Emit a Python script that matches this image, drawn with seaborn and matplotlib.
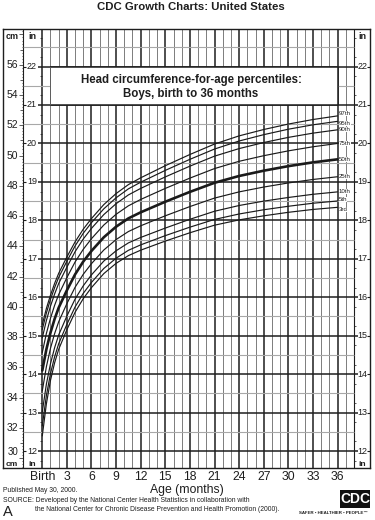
import matplotlib
matplotlib.use("Agg")
import matplotlib.pyplot as plt
from matplotlib.patches import Rectangle
import pandas as pd
import seaborn as sns

# ---------------- data ----------------
ages = [0, 0.5, 1, 1.5, 2, 3, 4, 5, 6, 7.5, 9, 10.5, 12, 15, 18, 21, 24, 27, 30, 33, 36]
p3 = [31.48, 33.6, 35.15, 36.3, 37.2, 38.5, 39.65, 40.55, 41.28, 42.2, 42.88, 43.39, 43.75,
      44.35, 44.9, 45.4, 45.75, 46.02, 46.25, 46.44, 46.58]
p5 = [32.14, 34.15, 35.6, 36.7, 37.57, 38.85, 40.0, 40.9, 41.62, 42.54, 43.22, 43.74, 44.1,
      44.71, 45.27, 45.78, 46.14, 46.42, 46.65, 46.85, 47.0]
p10 = [33.07, 34.9, 36.25, 37.3, 38.15, 39.4, 40.52, 41.4, 42.12, 43.03, 43.71, 44.23, 44.59,
       45.21, 45.79, 46.32, 46.7, 46.99, 47.23, 47.44, 47.6]
p25 = [34.46, 36.05, 37.27, 38.23, 39.02, 40.22, 41.3, 42.16, 42.86, 43.76, 44.45, 44.98, 45.36,
       46.02, 46.63, 47.19, 47.6, 47.92, 48.19, 48.42, 48.6]
p50 = [35.8, 37.2, 38.3, 39.2, 39.95, 41.1, 42.15, 43.0, 43.7, 44.6, 45.3, 45.85, 46.25,
       46.95, 47.6, 48.2, 48.65, 49.0, 49.3, 49.55, 49.75]
p75 = [36.99, 38.25, 39.25, 40.1, 40.82, 41.94, 42.97, 43.81, 44.51, 45.41, 46.12, 46.68, 47.1,
       47.83, 48.51, 49.14, 49.62, 49.99, 50.31, 50.58, 50.8]
p90 = [37.96, 39.1, 40.05, 40.85, 41.55, 42.63, 43.65, 44.49, 45.19, 46.1, 46.82, 47.4, 47.83,
       48.59, 49.3, 49.96, 50.46, 50.86, 51.2, 51.48, 51.7]
p95 = [38.51, 39.6, 40.5, 41.27, 41.95, 43.02, 44.03, 44.87, 45.57, 46.48, 47.21, 47.8, 48.24,
       49.02, 49.75, 50.43, 50.96, 51.38, 51.74, 52.03, 52.26]
p97 = [38.84, 39.9, 40.78, 41.55, 42.22, 43.3, 44.3, 45.14, 45.84, 46.76, 47.49, 48.08, 48.53,
       49.33, 50.07, 50.76, 51.3, 51.72, 52.08, 52.38, 52.62]
pct_names = ["3rd", "5th", "10th", "25th", "50th", "75th", "90th", "95th", "97th"]

month_ticks = [0, 3, 6, 9, 12, 15, 18, 21, 24, 27, 30, 33, 36]
month_labels = ["Birth", "3", "6", "9", "12", "15", "18", "21", "24", "27", "30", "33", "36"]
cm_labels = [30, 32, 34, 36, 38, 40, 42, 44, 46, 48, 50, 52, 54, 56]
in_labels = [12, 13, 14, 15, 16, 17, 18, 19, 20, 21, 22]

title = "CDC Growth Charts: United States"
subtitle1 = "Head circumference-for-age percentiles:"
subtitle2 = "Boys, birth to 36 months"

# ---------------- style ----------------
sns.set_style("white")
plt.rcParams["font.family"] = ["Liberation Sans", "DejaVu Sans"]

W, H = 375, 520
fig = plt.figure(figsize=(W / 100, H / 100), dpi=100)
fig.patch.set_facecolor("white")


def fx(px):
    return px / W


def fy(py):
    return 1 - py / H


ax = fig.add_axes([fx(3), fy(468), fx(370) - fx(3), fy(29) - fy(468)])
XMIN, XMAX = -4.79, 39.96
YMIN, YMAX = 29.36, 58.36
IN = 2.54
CMAX_X = -2.35      # cm axis line position (months units)
GRID_END = 38

DARK = "#1e1e1e"
MID = "#5a5a5a"
LIGHT = "#a8a8a8"

# vertical grid
for m in range(0, GRID_END + 1):
    if m % 3 == 0 and m <= 36:
        ax.vlines(m, YMIN, YMAX, color=DARK, lw=1.1, zorder=1)
    elif m == GRID_END:
        ax.vlines(m, YMIN, YMAX, color=DARK, lw=0.8, zorder=1)
    else:
        ax.vlines(m, YMIN, YMAX, color=MID, lw=0.55, zorder=1)

# cm axis line
ax.vlines(CMAX_X, YMIN, YMAX, color=DARK, lw=0.8, zorder=1)

# half-inch light lines
half = 12.5
while half <= 22.5:
    ax.hlines(half * IN, CMAX_X, GRID_END, color=LIGHT, lw=0.8, zorder=1)
    half += 1

# inch bold lines + labels
for i in in_labels:
    y = i * IN
    ax.hlines(y, -0.55, GRID_END + 0.45, color=DARK, lw=1.1, zorder=1)
    ax.hlines(y, CMAX_X, CMAX_X + 0.35, color=DARK, lw=0.8, zorder=1)
    ax.hlines(y, XMAX - 0.35, XMAX, color=DARK, lw=0.8, zorder=1)
    ax.text(-1.25, y, str(i), ha="center", va="center", fontsize=6.5, color=DARK, zorder=3)
    ax.text(39.05, y, str(i), ha="center", va="center", fontsize=6.5, color=DARK, zorder=3)

# quarter-inch minor ticks
q = 11.75
while q <= 22.9:
    if abs(q * 2 - round(q * 2)) > 1e-6:
        ax.hlines(q * IN, -0.3, 0, color=DARK, lw=0.5, zorder=1)
        ax.hlines(q * IN, GRID_END, GRID_END + 0.3, color=DARK, lw=0.5, zorder=1)
    q += 0.5

# cm ticks
t = 29.4
while t <= 58.3:
    r = round(t, 1)
    if abs(r - round(r)) < 1e-6:
        ln = 0.45 if int(round(r)) % 2 == 0 else 0.32
    elif abs(r * 2 - round(r * 2)) < 1e-6:
        ln = 0.25
    else:
        ln = 0.17
    ax.hlines(r, CMAX_X - ln, CMAX_X, color=DARK, lw=0.5, zorder=1)
    t += 0.2
for c in cm_labels:
    yy = c + 0.4 if c == 30 else c
    ax.text(CMAX_X - 0.55, yy, str(c), ha="right", va="center",
            fontsize=7.0 if c == 30 else 7.5, color=DARK)

# corner unit labels
ax.text(-3.7, 57.85, "cm", ha="center", va="center", fontsize=6.5, fontweight="bold", color=DARK)
ax.text(-1.25, 57.85, "in", ha="center", va="center", fontsize=6.5, fontweight="bold", color=DARK)
ax.text(39.05, 57.85, "in", ha="center", va="center", fontsize=6.5, fontweight="bold", color=DARK)
ax.text(-3.7, 29.39, "cm", ha="center", va="bottom", fontsize=6.0, fontweight="bold", color=DARK)
ax.text(-1.25, 29.39, "in", ha="center", va="bottom", fontsize=6.0, fontweight="bold", color=DARK)
ax.text(39.05, 29.39, "in", ha="center", va="bottom", fontsize=6.0, fontweight="bold", color=DARK)

# title box inside grid
ax.add_patch(Rectangle((1, 21 * IN), 35, IN, facecolor="white", edgecolor="none", zorder=2))
ax.hlines([21 * IN, 22 * IN], 1, 36, color=DARK, lw=1.1, zorder=3)
ax.vlines(36, 21 * IN, 22 * IN, color=DARK, lw=1.1, zorder=3)
ax.vlines(1, 21 * IN, 22 * IN, color=MID, lw=0.7, zorder=3)

# ---------------- curves ----------------
series = [p3, p5, p10, p25, p50, p75, p90, p95, p97]
rows = []
for name, vals in zip(pct_names, series):
    for a, v in zip(ages, vals):
        rows.append((name, a, v))
df = pd.DataFrame(rows, columns=["pct", "age", "cm"])
palette = {n: "#1a1a1a" for n in pct_names}
sizes = {n: (1.9 if n == "50th" else 0.85) for n in pct_names}
sns.lineplot(data=df, x="age", y="cm", hue="pct", size="pct", palette=palette, sizes=sizes,
             estimator=None, legend=False, ax=ax, zorder=4)

# small vertical nudges so the crowded end labels do not collide
label_nudge = {"3rd": -0.12, "5th": 0.08, "10th": 0.0, "25th": 0.0, "50th": 0.0,
               "75th": 0.0, "90th": 0.0, "95th": -0.14, "97th": 0.14}
for name, vals in zip(pct_names, series):
    ax.text(36.15, vals[-1] + label_nudge[name], name, ha="left", va="center", fontsize=4.4,
            color=DARK, zorder=5, bbox=dict(facecolor="white", edgecolor="none", pad=0.05))

ax.set_xlim(XMIN, XMAX)
ax.set_ylim(YMIN, YMAX)
ax.set_xticks(month_ticks, month_labels)
ax.tick_params(axis="x", length=0, pad=2.5, labelsize=8.8, colors=DARK)
ax.set_yticks([])
ax.set_xlabel("Age (months)", fontsize=8.8, labelpad=0.5, color=DARK)
ax.set_ylabel("")
for s in ax.spines.values():
    s.set_visible(True)
    s.set_color(DARK)
    s.set_linewidth(1.0)

# ---------------- text around ----------------
fig.text(fx(191), fy(7.5), title, ha="center", va="center", fontsize=8.2, fontweight="bold", color=DARK)
fig.text(fx(191), fy(80), subtitle1, ha="center", va="center", fontsize=8.3, fontweight="bold", color=DARK)
fig.text(fx(191), fy(93.5), subtitle2, ha="center", va="center", fontsize=8.3, fontweight="bold", color=DARK)

fig.text(fx(3), fy(490), "Published May 30, 2000.", ha="left", va="center", fontsize=4.9, color=DARK)
fig.text(fx(3), fy(500), "SOURCE: Developed by the National Center Health Statistics in collaboration with",
         ha="left", va="center", fontsize=4.9, color=DARK)
fig.text(fx(35), fy(509.5), "the National Center for Chronic Disease Prevention and Health Promotion (2000).",
         ha="left", va="center", fontsize=4.9, color=DARK)
fig.text(fx(3), fy(511.5), "A", ha="left", va="center", fontsize=10.5, color=DARK)

fig.add_artist(Rectangle((fx(340), fy(508)), fx(370) - fx(340), fy(490) - fy(508),
                         transform=fig.transFigure, facecolor="#111111", edgecolor="none"))
fig.text(fx(355), fy(499), "CDC", ha="center", va="center", fontsize=10, fontweight="bold",
         color="white")
fig.text(fx(333), fy(513.5), "SAFER \u2022 HEALTHIER \u2022 PEOPLE\u2122", ha="center", va="center",
         fontsize=3.2, fontweight="bold", color=DARK)

fig.savefig("out.png", dpi=100, facecolor="white")
